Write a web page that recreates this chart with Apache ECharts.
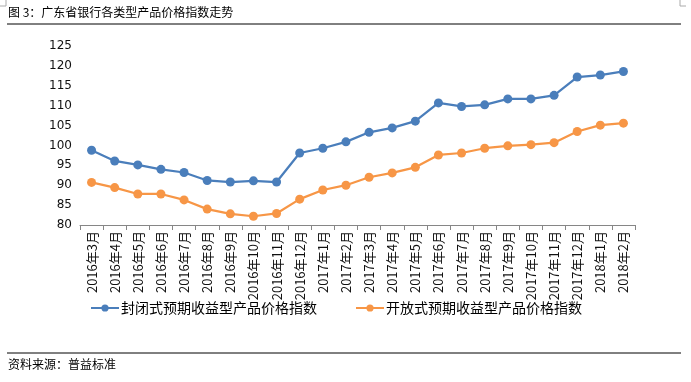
<!DOCTYPE html>
<html><head><meta charset="utf-8">
<script src="https://cdn.jsdelivr.net/npm/echarts@6/dist/echarts.min.js"></script>
<style>html,body{margin:0;padding:0;background:#fff}#c{width:691px;height:382px}</style>
</head><body><div id="c"></div>
<script>
const categories = ['2016年3月','2016年4月','2016年5月','2016年6月','2016年7月','2016年8月','2016年9月','2016年10月','2016年11月','2016年12月','2017年1月','2017年2月','2017年3月','2017年4月','2017年5月','2017年6月','2017年7月','2017年8月','2017年9月','2017年10月','2017年11月','2017年12月','2018年1月','2018年2月'];
const closedIndex = [98.8,96.1,95.1,94.0,93.2,91.2,90.8,91.1,90.8,98.1,99.3,100.9,103.3,104.4,106.1,110.7,109.8,110.2,111.7,111.7,112.6,117.2,117.7,118.6];
const openIndex = [90.7,89.4,87.8,87.8,86.3,84.0,82.8,82.2,82.9,86.5,88.8,90.0,92.0,93.1,94.5,97.6,98.1,99.3,99.9,100.2,100.7,103.5,105.1,105.6];
const seriesNames = ['封闭式预期收益型产品价格指数','开放式预期收益型产品价格指数'];
const titleText = '图 3：广东省银行各类型产品价格指数走势';
const sourceText = '资料来源：普益标准';
const font = '"Noto Sans CJK SC", sans-serif';
const chart = echarts.init(document.getElementById('c'));
chart.setOption({
  animation: false,
  backgroundColor: '#fff',
  grid: {left: 80, right: 56, top: 46, bottom: 157, containLabel: false},
  legend: {
    left: 90, top: 301, padding: 0, itemWidth: 28, itemHeight: 9, itemGap: 38,
    textStyle: {fontFamily: font, fontSize: 14, color: '#000', padding: [0,0,0,-3]},
    data: seriesNames
  },
  xAxis: {
    type: 'category', data: categories, boundaryGap: true,
    axisLine: {lineStyle: {color: '#868686', width: 1}},
    axisTick: {show: true, length: 5, lineStyle: {color: '#868686'}},
    axisLabel: {rotate: 90, interval: 0, margin: 6, fontFamily: font, fontSize: 13, color: '#111'}
  },
  yAxis: {
    type: 'value', min: 80, max: 125, interval: 5,
    axisLine: {show: false}, axisTick: {show: false}, splitLine: {show: false},
    axisLabel: {margin: 8, fontFamily: '"DejaVu Sans", sans-serif', fontSize: 12, color: '#111'}
  },
  series: [
    {name: seriesNames[0], type: 'line', data: closedIndex, symbol: 'circle', symbolSize: 9,
     itemStyle: {color: '#4A7EBB'}, lineStyle: {color: '#4A7EBB', width: 2.25}},
    {name: seriesNames[1], type: 'line', data: openIndex, symbol: 'circle', symbolSize: 9,
     itemStyle: {color: '#F79646'}, lineStyle: {color: '#F79646', width: 2.25}}
  ],
  graphic: [
    {type: 'text', left: 8, top: 6, style: {text: titleText, font: '12px ' + font, fill: '#000'}},
    {type: 'line', shape: {x1: 7, y1: 24, x2: 681, y2: 24}, style: {stroke: '#000', lineWidth: 1}},
    {type: 'line', shape: {x1: 7, y1: 353, x2: 681, y2: 353}, style: {stroke: '#000', lineWidth: 1}},
    {type: 'text', left: 8, top: 358, style: {text: sourceText, font: '12px ' + font, fill: '#000'}},
    {type: 'polyline', shape: {points: [[0,6],[6,6],[6,0]]}, style: {stroke: '#aaa', lineWidth: 1, fill: null}},
    {type: 'polyline', shape: {points: [[686,6],[680,6],[680,0]]}, style: {stroke: '#aaa', lineWidth: 1, fill: null}}
  ]
});
</script></body></html>
